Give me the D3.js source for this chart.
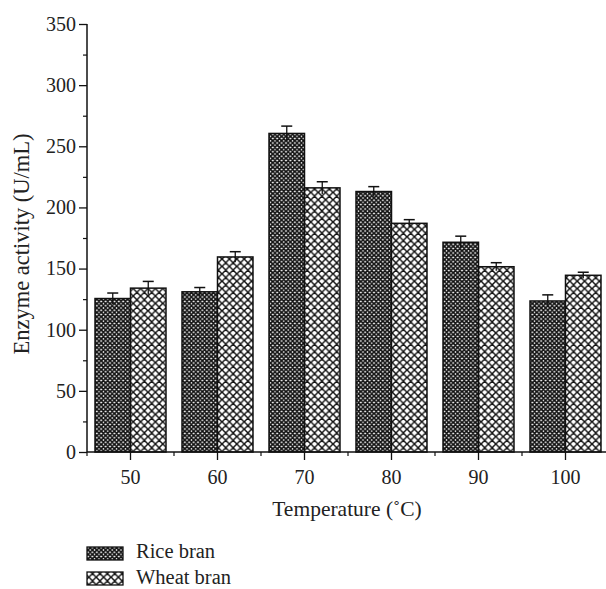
<!DOCTYPE html>
<html>
<head>
<meta charset="utf-8">
<script src="https://cdn.jsdelivr.net/npm/d3@7"></script>
<style>
html,body{margin:0;padding:0;background:#fff;}
svg{display:block;}
text{font-family:"Liberation Serif","DejaVu Serif",serif;fill:#222;}
</style>
</head>
<body>
<script>
const categories = ["50","60","70","80","90","100"];
const seriesNames = ["Rice bran","Wheat bran"];
const riceValues = [125.5, 131, 260.5, 213, 171.5, 123.5];
const riceErrors = [4.5, 3.5, 6, 4, 5, 5];
const wheatValues = [134, 159.5, 216, 187, 151.5, 144.5];
const wheatErrors = [5.5, 4.3, 5, 3, 3.3, 2.5];
const yMajorTicks = [0,50,100,150,200,250,300,350];
const yMinorTicks = [25,75,125,175,225,275,325];
const xLabel = "Temperature (\u02DAC)";
const yLabel = "Enzyme activity (U/mL)";

const W = 606, H = 589;
const svg = d3.select("body").append("svg").attr("width", W).attr("height", H);

const defs = svg.append("defs");
function hatch(id, P, sw){
  const p = defs.append("pattern").attr("id", id).attr("patternUnits","userSpaceOnUse")
    .attr("width", P).attr("height", P);
  p.append("rect").attr("width", P).attr("height", P).attr("fill","#fff");
  p.append("path").attr("d", `M${-P/2},${-P/2} L${P*1.5},${P*1.5} M${-P/2},${P*1.5} L${P*1.5},${-P/2} M${P/2},${-P/2} L${P*1.5},${P/2} M${-P/2},${P/2} L${P/2},${-P/2} M${-P/2},${P/2} L${P/2},${P*1.5} M${P/2},${P*1.5} L${P*1.5},${P/2}`)
    .attr("stroke","#111").attr("stroke-width", sw).attr("fill","none");
}
hatch("rice", 4.4, 1.7);
hatch("wheat", 7.4, 1.45);
const fills = ["url(#rice)","url(#wheat)"];

const x0 = 87, x1 = 609, yTop = 24, yBot = 452;
const x = d3.scaleBand().domain(categories).range([x0, x1]).paddingInner(0.184).paddingOuter(0.092);
const xs = d3.scaleBand().domain(seriesNames).range([0, x.bandwidth()]);
const y = d3.scaleLinear().domain([0, 350]).range([yBot, yTop]);

const data = categories.map((c,i)=>({cat:c, vals:[
  {s:seriesNames[0], v:riceValues[i], e:riceErrors[i]},
  {s:seriesNames[1], v:wheatValues[i], e:wheatErrors[i]}
]}));

const g = svg.append("g");
data.forEach(d=>{
  d.vals.forEach((b,j)=>{
    const bx = x(d.cat) + xs(b.s);
    g.append("rect").attr("x", bx).attr("y", y(b.v)).attr("width", xs.bandwidth()).attr("height", y(0)-y(b.v))
      .attr("fill", fills[j]).attr("stroke","#111").attr("stroke-width",1.5);
  });
});
data.forEach(d=>{
  d.vals.forEach((b,j)=>{
    const cx = x(d.cat) + xs(b.s) + xs.bandwidth()/2;
    g.append("line").attr("x1",cx).attr("x2",cx).attr("y1",y(b.v+b.e)).attr("y2",y(b.v-b.e))
      .attr("stroke","#111").attr("stroke-width",1.3);
    g.append("line").attr("x1",cx-5.5).attr("x2",cx+5.5).attr("y1",y(b.v+b.e)).attr("y2",y(b.v+b.e))
      .attr("stroke","#111").attr("stroke-width",1.5);
  });
});

// y axis
const yAxis = svg.append("g").attr("transform",`translate(${x0},0)`)
  .call(d3.axisLeft(y).tickValues(yMajorTicks).tickSize(8).tickPadding(3).tickFormat(d3.format("d")));
yAxis.select(".domain").attr("stroke","#111").attr("stroke-width",1.5).attr("d",`M0,${yTop}V${yBot}`);
yAxis.selectAll(".tick line").attr("stroke","#111").attr("stroke-width",1.3);
yAxis.selectAll(".tick text").attr("font-size",20).attr("font-family","Liberation Serif").attr("fill","#222");
const yMinor = svg.append("g").attr("transform",`translate(${x0},0)`)
  .call(d3.axisLeft(y).tickValues(yMinorTicks).tickSize(4).tickFormat(""));
yMinor.select(".domain").remove();
yMinor.selectAll(".tick line").attr("stroke","#111").attr("stroke-width",1.2);

// x axis
const xAxis = svg.append("g").attr("transform",`translate(0,${yBot})`)
  .call(d3.axisBottom(x).tickSize(8).tickPadding(10));
xAxis.select(".domain").attr("stroke","#111").attr("stroke-width",1.5).attr("d",`M${x0},0H${x1}`);
xAxis.selectAll(".tick line").attr("stroke","#111").attr("stroke-width",1.3);
xAxis.selectAll(".tick text").attr("font-size",20).attr("font-family","Liberation Serif").attr("fill","#222");
const step = x.step();
svg.append("g").selectAll("line").data(categories).join("line")
  .attr("x1", d=>x(d) + x.bandwidth()/2 - step/2).attr("x2", d=>x(d) + x.bandwidth()/2 - step/2)
  .attr("y1", yBot).attr("y2", yBot+4).attr("stroke","#111").attr("stroke-width",1.2);

// axis labels
svg.append("text").attr("x", 347).attr("y", 516).attr("text-anchor","middle")
  .attr("font-size",21.5).text(xLabel);
svg.append("text").attr("transform","translate(29,244) rotate(-90)").attr("text-anchor","middle")
  .attr("font-size",22.5).text(yLabel);

// legend
const leg = svg.append("g");
seriesNames.forEach((s,i)=>{
  const ly = 547 + i*25;
  leg.append("rect").attr("x",87).attr("y",ly).attr("width",36).attr("height",13)
    .attr("fill",fills[i]).attr("stroke","#111").attr("stroke-width",1.3);
  leg.append("text").attr("x",136).attr("y",558 + i*26).attr("font-size",20.5).text(s);
});
</script>
</body>
</html>
